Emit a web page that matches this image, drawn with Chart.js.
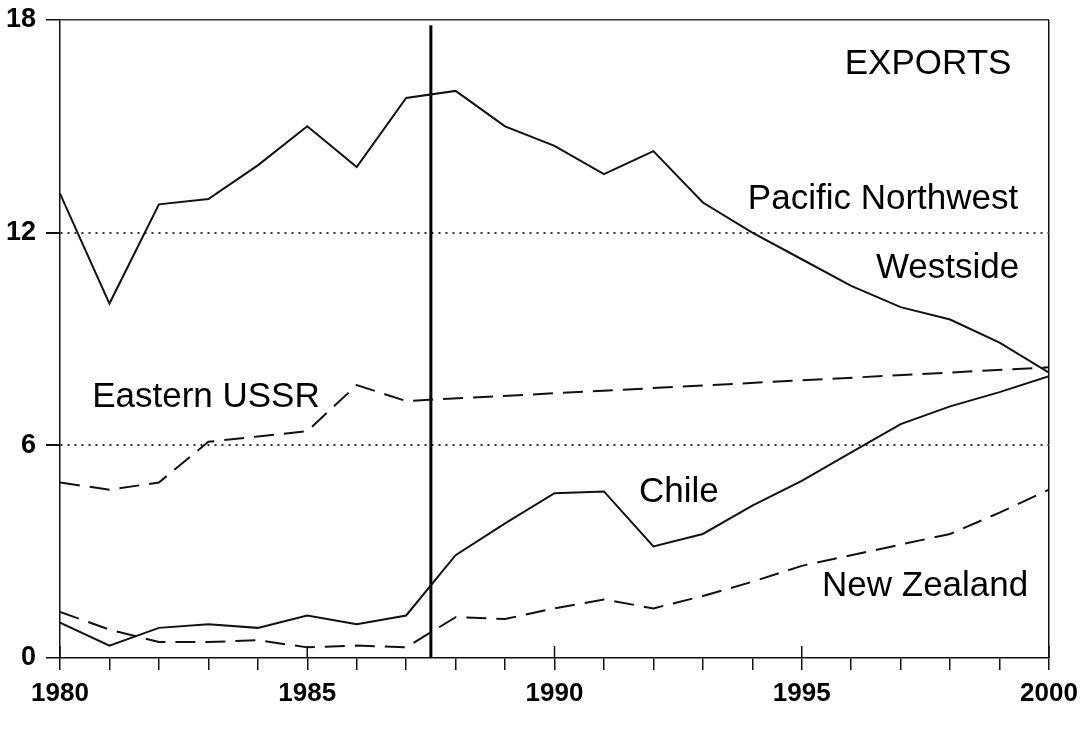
<!DOCTYPE html>
<html>
<head>
<meta charset="utf-8">
<script src="https://cdn.jsdelivr.net/npm/chart.js@4.4.1/dist/chart.umd.min.js"></script>
<style>
  html, body { margin: 0; padding: 0; background: #fff; }
  #wrap { width: 1087px; height: 730px; }
</style>
</head>
<body>
<div id="wrap"><canvas id="exports-chart"></canvas></div>
<script>
// valores (millones)
const years = [1980, 1981, 1982, 1983, 1984, 1985, 1986, 1987, 1988, 1989, 1990,
  1991, 1992, 1993, 1994, 1995, 1996, 1997, 1998, 1999, 2000];
const westside = [13.1, 10.0, 12.8, 12.95, 13.9, 15.0, 13.85, 15.8, 16.0, 15.0, 14.45,
  13.65, 14.3, 12.85, 12.0, 11.25, 10.5, 9.9, 9.55, 8.9, 8.05];
const chile = [1.0, 0.35, 0.85, 0.95, 0.85, 1.2, 0.95, 1.2, 2.9, 3.8, 4.65,
  4.7, 3.15, 3.5, 4.3, 5.0, 5.8, 6.6, 7.1, 7.5, 7.95];
const newZealand = [1.3, 0.8, 0.45, 0.45, 0.5, 0.3, 0.35, 0.3, 1.15, 1.1, 1.4,
  1.65, 1.4, 1.75, 2.15, 2.6, 2.9, 3.2, 3.5, 4.1, 4.75];
const ussrYears = [1980, 1981, 1982, 1983, 1984, 1985, 1986, 1987, 2000];
const easternUssr = [4.95, 4.75, 4.95, 6.1, 6.25, 6.4, 7.7, 7.25, 8.2];
const yTicks = [0, 6, 12, 18];
const labelYears = [1980, 1985, 1990, 1995, 2000];
const divideYear = 1987.5;
const divideTop = 17.85;

const FONT = "'Liberation Sans', Arial, Helvetica, sans-serif";
const INK = "#111";

function toPoints(xs, ys) {
  return xs.map((x, i) => ({ x: x, y: ys[i] }));
}

// textos dentro del grafico (en coordenadas de datos)
const annotations = [
  { text: "EXPORTS", x: 1995.87, y: 16.75 },
  { text: "Pacific Northwest", x: 1993.91, y: 12.95 },
  { text: "Westside", x: 1996.5, y: 10.98 },
  { text: "Eastern USSR", x: 1980.65, y: 7.34 },
  { text: "Chile", x: 1991.71, y: 4.68 },
  { text: "New Zealand", x: 1995.41, y: 2.03 },
];

const textPlugin = {
  id: "textPlugin",
  afterDatasetsDraw(chart) {
    const { ctx, scales } = chart;
    ctx.save();
    // marcas mayores que cruzan el eje
    ctx.strokeStyle = INK;
    ctx.lineWidth = 1.5;
    labelYears.forEach((yr) => {
      const px = scales.x.getPixelForValue(yr);
      const py = scales.y.getPixelForValue(0);
      ctx.beginPath();
      ctx.moveTo(px, py);
      ctx.lineTo(px, py - 12);
      ctx.stroke();
    });
    ctx.fillStyle = "#000";
    ctx.font = "35px " + FONT;
    ctx.textAlign = "left";
    ctx.textBaseline = "middle";
    annotations.forEach((a) => {
      ctx.fillText(a.text, scales.x.getPixelForValue(a.x), scales.y.getPixelForValue(a.y));
    });
    ctx.restore();
  },
};

const lineStyle = {
  borderColor: INK,
  borderWidth: 2,
  pointRadius: 0,
  tension: 0,
  fill: false,
};

new Chart(document.getElementById("exports-chart"), {
  type: "line",
  data: {
    datasets: [
      { label: "Pacific Northwest Westside", data: toPoints(years, westside), ...lineStyle },
      { label: "Chile", data: toPoints(years, chile), ...lineStyle },
      { label: "Eastern USSR", data: toPoints(ussrYears, easternUssr), ...lineStyle, borderDash: [20, 10] },
      { label: "New Zealand", data: toPoints(years, newZealand), ...lineStyle, borderDash: [20, 10] },
      {
        label: "divide",
        data: [{ x: divideYear, y: 0 }, { x: divideYear, y: divideTop }],
        ...lineStyle,
        borderWidth: 3,
        borderColor: "#000",
      },
    ],
  },
  options: {
    responsive: true,
    maintainAspectRatio: false,
    animation: false,
    layout: { padding: { top: 20, right: 38, left: 0, bottom: 0 } },
    plugins: {
      legend: { display: false },
      tooltip: { enabled: false },
    },
    scales: {
      x: {
        type: "linear",
        min: 1980,
        max: 2000,
        afterFit: (s) => { s.height = 72; },
        border: { display: true, color: INK, width: 1.5 },
        grid: {
          drawOnChartArea: true,
          drawTicks: true,
          tickLength: 12,
          lineWidth: 1.5,
          color: (c) => (c.tick && c.tick.value === 2000 ? INK : "rgba(0,0,0,0)"),
          tickColor: INK,
        },
        ticks: {
          stepSize: 1,
          autoSkip: false,
          maxRotation: 0,
          padding: 8,
          color: "#000",
          font: { size: 26, family: FONT, weight: "bold" },
          callback: (v) => (labelYears.includes(v) ? String(v) : ""),
        },
      },
      y: {
        min: 0,
        max: 18,
        afterFit: (s) => {
          s.width = 60;
          s.paddingTop = 0;
          s.paddingBottom = 0;
        },
        afterBuildTicks: (s) => { s.ticks = yTicks.map((v) => ({ value: v })); },
        border: {
          display: true,
          color: INK,
          width: 1.5,
          dash: (c) => (c.tick && (c.tick.value === 6 || c.tick.value === 12) ? [2, 5] : []),
        },
        grid: {
          drawTicks: true,
          tickLength: 14,
          lineWidth: (c) => (c.tick && (c.tick.value === 6 || c.tick.value === 12) ? 2 : 1.5),
          color: (c) => (c.tick && c.tick.value > 0 ? "#333" : "rgba(0,0,0,0)"),
          tickColor: INK,
        },
        ticks: {
          padding: 10,
          color: "#000",
          font: { size: 27, family: FONT, weight: "bold" },
        },
      },
    },
  },
  plugins: [textPlugin],
});
</script>
</body>
</html>
